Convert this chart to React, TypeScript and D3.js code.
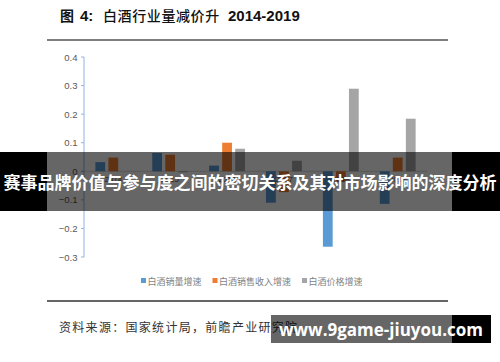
import React from 'react';
import * as d3 from 'd3';

const years = ['2014', '2015', '2016', '2017', '2018', '2019'];
const volumeGrowth = [0.032, 0.064, 0.02, -0.11, -0.264, -0.114];
const revenueGrowth = [0.048, 0.058, 0.1, -0.073, -0.036, 0.048];
const priceGrowth = [0.0, -0.003, 0.079, 0.037, 0.289, 0.184];
const seriesNames = ['白酒销量增速', '白酒销售收入增速', '白酒价格增速'];
const seriesColors = ['#5B9BD5', '#ED7D31', '#A5A5A5'];
const yTicks = [0.4, 0.3, 0.2, 0.1, 0, -0.1, -0.2, -0.3];

const W = 500;
const H = 362;

export default function App() {
  const seriesValues = [volumeGrowth, revenueGrowth, priceGrowth];
  const y = d3.scaleLinear().domain([-0.3, 0.4]).range([257, 57]);
  const x0 = d3.scaleBand<string>().domain(years).range([84, 427]).paddingInner(0.37).paddingOuter(0.2);
  const x1 = d3.scaleBand<string>().domain(seriesNames).range([0, x0.bandwidth()]).paddingInner(0.25);
  const fmt = (v: number) => (v === 0 ? '0' : d3.format('.1f')(v));
  const cjk = '"Noto Sans CJK SC", "Noto Sans", sans-serif';
  const axisFont = '"Liberation Sans", "DejaVu Sans", sans-serif';

  const legendX = [141, 212.5, 302];

  return (
    <svg width={W} height={H} style={{ position: 'absolute', left: 0, top: 0, background: '#fff' }}>
      <rect x={0} y={0} width={W} height={H} fill="#fff" />
      {/* title */}
      <text y={21} fill="#111">
        <tspan x={60} fontFamily={cjk} fontSize={14} fontWeight={700}>图</tspan>
        <tspan x={80} fontFamily={axisFont} fontSize={15} fontWeight={700}>4:</tspan>
        <tspan x={103} fontFamily={cjk} fontSize={14} fontWeight={500} letterSpacing={0.6}>白酒行业量减价升</tspan>
        <tspan x={228} fontFamily={axisFont} fontSize={15} fontWeight={700}>2014-2019</tspan>
      </text>
      <line x1={47} x2={448} y1={40} y2={40} stroke="#7f7f7f" strokeWidth={2} />

      {/* x axis line at zero */}
      <line x1={84} x2={427} y1={y(0)} y2={y(0)} stroke="#D9D9D9" strokeWidth={1} />

      {/* bars */}
      {years.map((yr, i) => (
        <g key={yr}>
          {seriesNames.map((s, k) => {
            const v = seriesValues[k][i];
            const top = y(Math.max(0, v));
            const h = Math.abs(y(v) - y(0));
            return (
              <rect
                key={s}
                x={(x0(yr) as number) + (x1(s) as number)}
                y={top}
                width={x1.bandwidth()}
                height={Math.max(h, v === 0 ? 0 : 1)}
                fill={seriesColors[k]}
              />
            );
          })}
          <text
            x={(x0(yr) as number) + x0.bandwidth() / 2}
            y={y(0) + 11}
            textAnchor="middle"
            fontFamily={axisFont}
            fontSize={8}
            fill="#595959"
          >
            {yr}
          </text>
        </g>
      ))}

      {/* y axis */}
      <line x1={84} x2={84} y1={y(0.4)} y2={y(-0.3)} stroke="#8EB4E3" strokeWidth={1} />
      {yTicks.map((t) => (
        <g key={t}>
          <line x1={81} x2={84} y1={y(t)} y2={y(t)} stroke="#8EB4E3" strokeWidth={1} />
          <text x={77.5} y={y(t) + 3.5} textAnchor="end" fontFamily={axisFont} fontSize={9.5} fill="#595959">
            {fmt(t)}
          </text>
        </g>
      ))}

      {/* legend */}
      {seriesNames.map((s, k) => (
        <g key={s}>
          <rect x={legendX[k]} y={278} width={5} height={5} fill={seriesColors[k]} />
          <text x={legendX[k] + 6.5} y={284.5} fontFamily={cjk} fontSize={9} fill="#7f7f7f">
            {s}
          </text>
        </g>
      ))}

      {/* bottom rule and source */}
      <line x1={47} x2={448} y1={301} y2={301} stroke="#333" strokeWidth={1.5} />
      <text x={59} y={332} fontFamily={cjk} fontSize={12} letterSpacing={1.3} fill="#333">
        资料来源：国家统计局，前瞻产业研究院
      </text>

      {/* banner overlay */}
      <rect x={0} y={152} width={47} height={59} fill="#000" />
      <rect x={452} y={152} width={48} height={59} fill="#000" />
      <rect x={47} y={152} width={405} height={59} fill="#000" opacity={0.6} />
      <text x={250} y={188.5} textAnchor="middle" fontFamily={cjk} fontSize={17} fontWeight={700} fill="#fff">
        赛事品牌价值与参与度之间的密切关系及其对市场影响的深度分析
      </text>

      {/* watermark */}
      <rect x={271} y={315} width={181} height={28} fill="#000" opacity={0.6} />
      <rect x={452} y={315} width={39} height={28} fill="#000" />
      <text x={381} y={335.5} textAnchor="middle" fontFamily='"Open Sans", "DejaVu Sans", sans-serif' fontSize={17} fontWeight={700} fill="#fff">
        www.9game-jiuyou.com
      </text>
    </svg>
  );
}
